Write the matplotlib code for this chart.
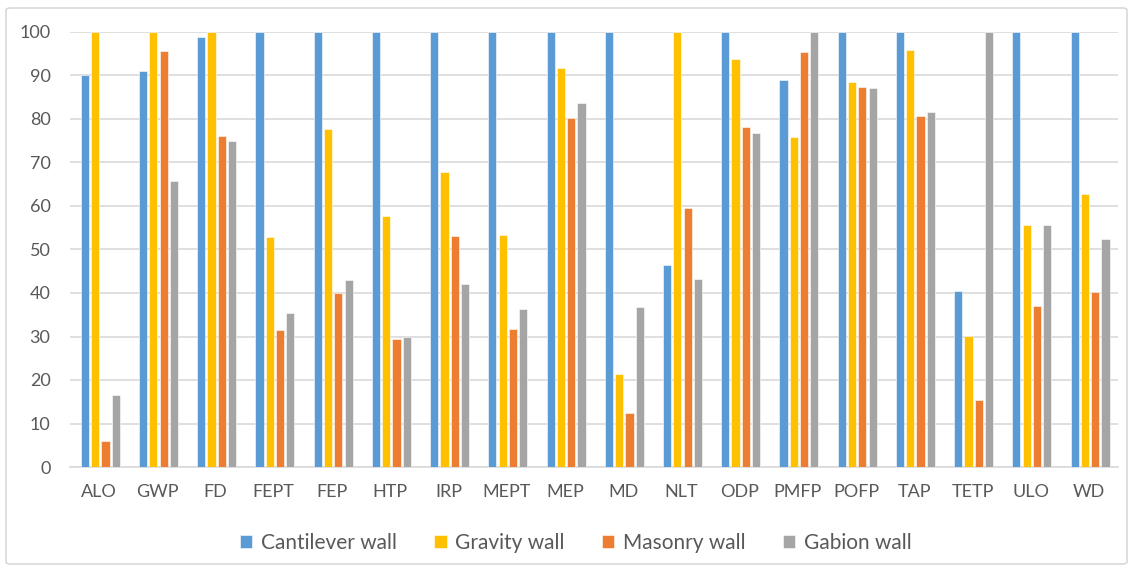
from matplotlib import pyplot as plt
from matplotlib.patches import FancyBboxPatch
import numpy as np

categories = ["ALO", "GWP", "FD", "FEPT", "FEP", "HTP", "IRP", "MEPT", "MEP",
              "MD", "NLT", "ODP", "PMFP", "POFP", "TAP", "TETP", "ULO", "WD"]
cantilever = [90, 91, 98.9, 100, 100, 100, 100, 100, 100,
              100, 46.5, 100, 88.9, 100, 100, 40.4, 100, 100]
gravity = [100, 100, 100, 52.8, 77.6, 57.6, 67.8, 53.4, 91.7,
           21.4, 100, 93.7, 75.8, 88.5, 95.8, 30.1, 55.7, 62.7]
masonry = [6, 95.7, 76.1, 31.5, 40, 29.4, 53, 31.8, 80.2,
           12.5, 59.6, 78.2, 95.4, 87.4, 80.6, 15.5, 37.1, 40.2]
gabion = [16.6, 65.8, 75, 35.4, 43, 30, 42, 36.4, 83.6,
          36.7, 43.3, 76.8, 100, 87.1, 81.6, 100, 55.7, 52.4]

series = [("Cantilever wall", cantilever, "#5B9BD5"),
          ("Gravity wall", gravity, "#FFC000"),
          ("Masonry wall", masonry, "#ED7D31"),
          ("Gabion wall", gabion, "#A5A5A5")]

plt.rcParams['font.family'] = ['Lato', 'DejaVu Sans']

fig = plt.figure(figsize=(11.33, 5.68), dpi=100)
ax = fig.add_axes([70 / 1133, 1 - 467 / 568, (1118 - 70) / 1133, (467 - 32) / 568])

x = np.arange(len(categories))
step = 0.177
for i, (name, vals, color) in enumerate(series):
    ax.bar(x + (i - 1.5) * step + 0.02, vals, width=0.14, color=color,
           edgecolor="white", linewidth=0.4, label=name, zorder=3)

ax.set_xlim(-0.5, len(categories) - 0.5)
ax.set_ylim(0, 100)
ax.set_yticks(range(0, 101, 10))
ax.set_xticks(x)
ax.set_xticklabels(categories)
ax.tick_params(axis="both", length=0, colors="#595959", labelsize=13)
ax.tick_params(axis="y", pad=14)
ax.tick_params(axis="x", pad=12)
ax.grid(axis="y", color="#D9D9D9", linewidth=1.2, zorder=0)
for s in ["top", "right", "left"]:
    ax.spines[s].set_visible(False)
ax.spines["bottom"].set_color("#D9D9D9")
ax.spines["bottom"].set_linewidth(1.2)

leg = fig.legend(loc="center", bbox_to_anchor=(0.508, 1 - 543 / 568), ncol=4,
                 frameon=False, fontsize=15, handlelength=0.6, handleheight=0.6,
                 handletextpad=0.4, columnspacing=1.8, labelcolor="#595959")

# light rounded frame around the whole chart
fig.patches.append(FancyBboxPatch((6 / 1133, 4 / 568), 1121 / 1133, 556 / 568,
                                  boxstyle="round,pad=0,rounding_size=0.004",
                                  transform=fig.transFigure, facecolor="none",
                                  edgecolor="#D9D9D9", linewidth=1.2))

plt.savefig("out.png", dpi=100)
